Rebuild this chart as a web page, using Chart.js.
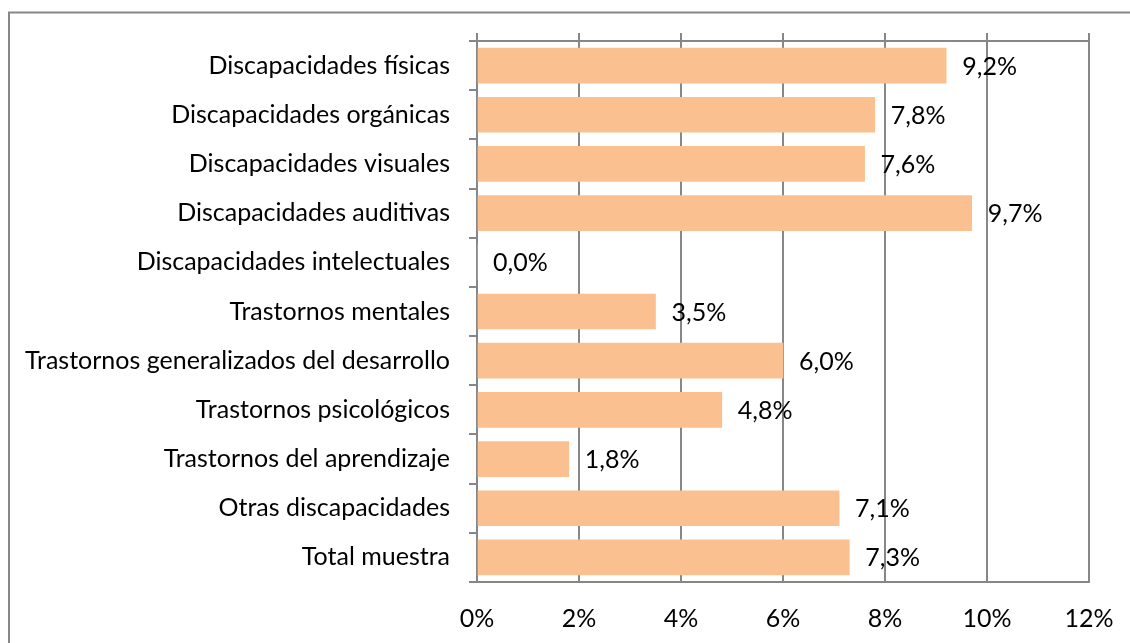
<!DOCTYPE html>
<html>
<head>
<meta charset="utf-8">
<script src="https://cdn.jsdelivr.net/npm/chart.js@4/dist/chart.umd.min.js"></script>
<style>
html,body{margin:0;padding:0;background:#fff;}
#wrap{width:1130px;height:643px;position:relative;}
</style>
</head>
<body>
<div id="wrap"><canvas id="c" width="1130" height="643"></canvas></div>
<script>
const categories = [
  "Discapacidades físicas",
  "Discapacidades orgánicas",
  "Discapacidades visuales",
  "Discapacidades auditivas",
  "Discapacidades intelectuales",
  "Trastornos mentales",
  "Trastornos generalizados del desarrollo",
  "Trastornos psicológicos",
  "Trastornos del aprendizaje",
  "Otras discapacidades",
  "Total muestra"
];
const values = [9.2, 7.8, 7.6, 9.7, 0.0, 3.5, 6.0, 4.8, 1.8, 7.1, 7.3];
const xTicks = [0, 2, 4, 6, 8, 10, 12];

const FONT = "Lato";
const FSIZE = 25;
const GRID = "#878787";

const framePlugin = {
  id: 'frame',
  beforeDraw(chart) {
    const ctx = chart.ctx;
    ctx.save();
    ctx.fillStyle = '#fff';
    ctx.fillRect(0, 0, chart.width, chart.height);
    ctx.strokeStyle = GRID;
    ctx.lineWidth = 2;
    ctx.beginPath();
    ctx.moveTo(9, chart.height + 5);
    ctx.lineTo(9, 12.5);
    ctx.lineTo(chart.width + 5, 12.5);
    ctx.stroke();
    ctx.restore();
  },
  afterDraw(chart) {
    const ctx = chart.ctx;
    const a = chart.chartArea;
    const xs = chart.scales.x;
    ctx.save();
    ctx.strokeStyle = GRID;
    ctx.lineWidth = 2;
    ctx.beginPath();
    ctx.moveTo(a.left - 8, a.top);
    ctx.lineTo(a.right, a.top);
    xTicks.forEach(v => {
      const px = Math.round(xs.getPixelForValue(v));
      ctx.moveTo(px, a.top - 8);
      ctx.lineTo(px, a.top);
    });
    ctx.stroke();
    ctx.restore();
  },
  afterDatasetsDraw(chart) {
    const ctx = chart.ctx;
    const meta = chart.getDatasetMeta(0);
    ctx.save();
    ctx.fillStyle = '#000';
    ctx.font = FSIZE + 'px ' + FONT;
    ctx.textAlign = 'left';
    ctx.textBaseline = 'middle';
    meta.data.forEach((bar, i) => {
      const txt = values[i].toFixed(1).replace('.', ',') + '%';
      ctx.fillText(txt, bar.x + 16, bar.y + 1);
    });
    ctx.restore();
  }
};

new Chart(document.getElementById('c'), {
  type: 'bar',
  data: {
    labels: categories,
    datasets: [{
      data: values,
      backgroundColor: '#FAC090',
      borderWidth: 0,
      barThickness: 35
    }]
  },
  options: {
    indexAxis: 'y',
    responsive: false,
    animation: false,
    devicePixelRatio: 1,
    layout: { padding: { left: 0, right: 41, top: 41, bottom: 0 } },
    plugins: { legend: { display: false }, tooltip: { enabled: false } },
    scales: {
      x: {
        min: 0, max: 12,
        afterBuildTicks(scale) { scale.ticks = xTicks.map(v => ({ value: v })); },
        afterFit(scale) { scale.height = 61; scale.paddingLeft = 0; scale.paddingRight = 0; },
        ticks: {
          color: '#000',
          font: { family: FONT, size: FSIZE },
          padding: 22,
          maxRotation: 0,
          callback: v => v + '%'
        },
        grid: { color: GRID, lineWidth: 2, drawTicks: false },
        border: { color: GRID, width: 2 }
      },
      y: {
        afterFit(scale) { scale.width = 477; scale.paddingTop = 0; scale.paddingBottom = 0; },
        ticks: {
          color: '#000',
          font: { family: FONT, size: FSIZE },
          padding: 19,
          autoSkip: false
        },
        grid: { color: GRID, lineWidth: 2, drawOnChartArea: false, drawTicks: true, tickLength: 8, offset: true },
        border: { color: GRID, width: 2 }
      }
    }
  },
  plugins: [framePlugin]
});
</script>
</body>
</html>
